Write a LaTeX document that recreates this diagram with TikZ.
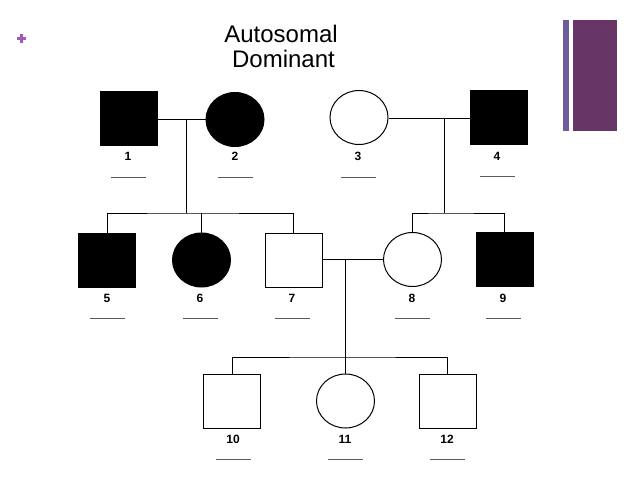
\documentclass[tikz,border=0pt]{standalone}
\usepackage{fontspec}
\setmainfont{Liberation Sans}
\usetikzlibrary{shapes.geometric,calc}
\definecolor{plusc}{RGB}{160,90,180}
\definecolor{barthin}{RGB}{107,94,154}
\definecolor{barwide}{RGB}{103,53,102}
\definecolor{ulc}{RGB}{90,90,90}
\tikzset{
  male/.style={rectangle,draw=black,line width=1pt,minimum width=57pt,minimum height=54pt,inner sep=0pt},
  female/.style={ellipse,draw=black,line width=1pt,minimum width=58pt,minimum height=54pt,inner sep=0pt},
  aff/.style={fill=black},
  link/.style={draw=black,line width=1pt},
  lab/.style={font=\bfseries\fontsize{12}{13}\selectfont,inner sep=0pt},
  uline/.style={draw=ulc,line width=0.8pt},
  ttl/.style={font=\fontsize{24}{25}\selectfont,inner sep=0pt,anchor=base}
}
\begin{document}
\begin{tikzpicture}[x=1pt,y=-1pt]
\useasboundingbox[fill=white] (0,0) rectangle (638,479);
% decoration
\fill[barthin] (563,20) rectangle (569,131);
\fill[barwide] (573,20) rectangle (617,131);
\draw[plusc,line width=3pt] (17,38) -- (26,38);
\draw[plusc,line width=3pt] (21.5,33.5) -- (21.5,42.5);
% title
\node[ttl] (title1) at (281,42) {Autosomal};
\node[ttl] (title2) at (283.5,67) {Dominant};
% generation I
\node[male,aff] (n1) at (129,118.5) {};
\node[female,aff] (n2) at (235,119.5) {};
\node[female] (n3) at (359,117.5) {};
\node[male,aff] (n4) at (499,117) {};
% generation II
\node[male,aff] (n5) at (107,260) {};
\node[female,aff] (n6) at (201.5,260) {};
\node[male] (n7) at (293.5,260) {};
\node[female] (n8) at (412.5,259.5) {};
\node[male,aff] (n9) at (504.5,259) {};
% generation III
\node[male] (n10) at (232,401) {};
\node[female] (n11) at (345.5,401) {};
\node[male] (n12) at (447.5,401) {};
% labels
\foreach \n/\x/\y in {1/128/156.5,2/235/156.5,3/358/156,4/497/156,5/107/298,6/200/298,7/292/298,8/412/298,9/503/298,10/233/439,11/345/439,12/447/439}{
  \node[lab] (l\n) at (\x,\y) {\n};
}
\foreach \n/\y in {1/177,2/177,3/177,4/176,5/318,6/318,7/318,8/318,9/318,10/459,11/459,12/459}{
  \draw[uline] ($(l\n.center |- 0,\y)+(-17.5,0)$) -- ++(35,0);
}
% family 1-2
\coordinate (m12) at (186,119);
\coordinate (s12) at (186,213);
\draw[link] (n1.east |- m12) -- (n2.west |- m12);
\draw[link] (m12) -- (s12);
\draw[link] (n5.north) |- (s12) -| (n7.north);
\draw[link] (n6.north) -- (n6.north |- s12);
% family 3-4
\coordinate (m34) at (444,118);
\coordinate (s34) at (444,213);
\draw[link] (n3.east |- m34) -- (n4.west |- m34);
\draw[link] (m34) -- (s34);
\draw[link] (n8.north) |- (s34) -| (n9.north);
% family 7-8
\coordinate (m78) at (345,259);
\coordinate (s78) at (345,357);
\draw[link] (n7.east |- m78) -- (n8.west |- m78);
\draw[link] (m78) -- (s78);
\draw[link] (n10.north) |- (s78) -| (n12.north);
\draw[link] (n11.north) -- (n11.north |- s78);
\end{tikzpicture}
\end{document}
